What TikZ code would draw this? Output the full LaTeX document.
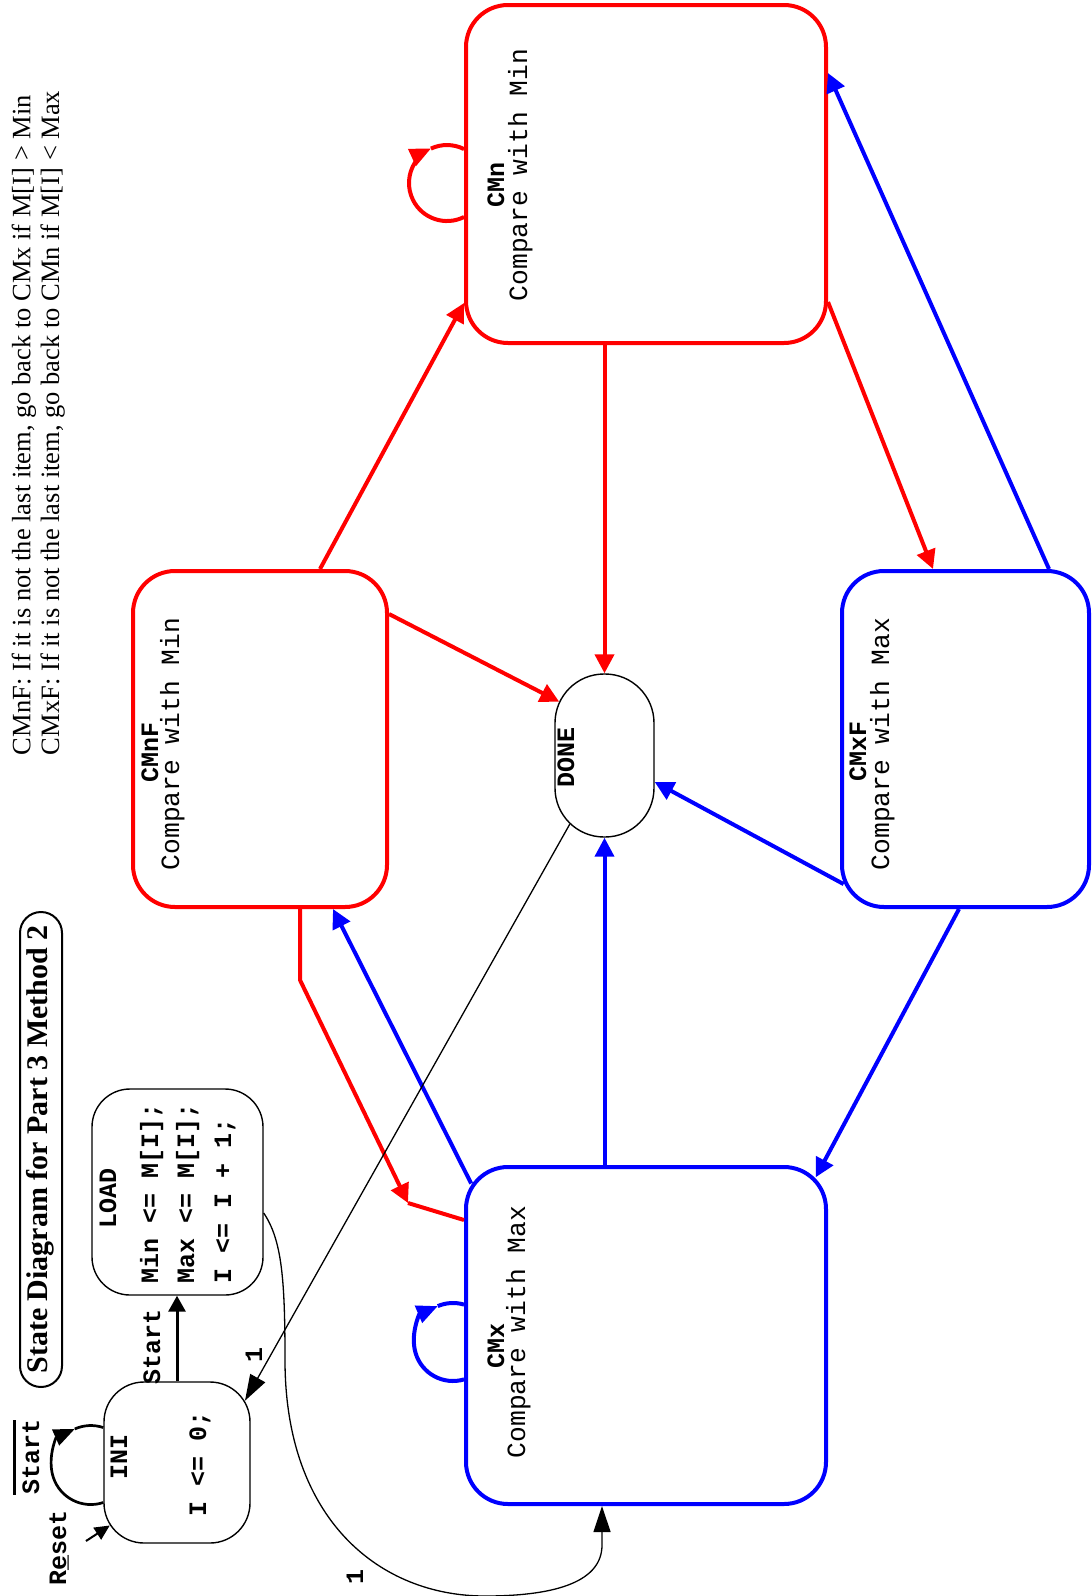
\documentclass[tikz,border=0pt]{standalone}
\usepackage{fontspec}
\setmainfont{Liberation Serif}
\newfontfamily\monofam{Liberation Mono}
\usetikzlibrary{arrows.meta,calc}
\newcommand\monob{\monofam\bfseries\fontsize{25}{30}\selectfont}
\newcommand\monor{\monofam\fontsize{26.3}{30}\selectfont}
\begin{document}
\begin{tikzpicture}[x=1pt,y=1pt,
  cbox/.style={draw, line width=4pt, rounded corners=42pt, inner sep=0pt},
  kbox/.style={draw, line width=1.4pt, inner sep=0pt},
  lbl/.style={rotate=90, anchor=base, inner sep=0pt, outer sep=0pt},
  redln/.style={draw=red, line width=4pt},
  blueln/.style={draw=blue, line width=4pt},
  thinln/.style={draw=black, line width=1.3pt},
  carr/.style={-{Triangle[length=19pt,width=19pt]}},
  larr/.style={-{Triangle[length=21pt,width=18pt]}},
  karr/.style={-{Triangle[length=26pt,width=17pt]}}
]
\fill[white] (0,0) rectangle (1092,-1596);
\useasboundingbox (0,0) rectangle (1092,-1596);

% notes and title
\node[lbl, anchor=base west] (note1) at (30.5,-755) {\fontsize{26.5}{28.5}\selectfont CMnF: If it is not the last item, go back to CMx if M[I] > Min};
\node[lbl, anchor=base west] (note2) at (59,-755) {\fontsize{26.5}{28.5}\selectfont CMxF: If it is not the last item, go back to CMn if M[I] < Max};
\node[draw, line width=2pt, rounded corners=21pt, minimum width=42pt, minimum height=475pt, inner sep=0pt] (titlebox) at (41,-1149.5) {};
\node[lbl] (title) at (47,-1149.5) {\fontsize{30}{36}\selectfont\bfseries State Diagram for Part 3 Method 2};

% boxes
\node[cbox, red, minimum width=360pt, minimum height=338pt] (CMn) at (646,-174) {};
\node[cbox, red, minimum width=254pt, minimum height=336pt] (CMnF) at (260,-739) {};
\node[cbox, blue, minimum width=247pt, minimum height=336pt] (CMxF) at (965.5,-739) {};
\node[cbox, blue, minimum width=360pt, minimum height=337pt] (CMx) at (646,-1335.5) {};
\node[kbox, rounded corners=49pt, minimum width=99pt, minimum height=163pt] (DONE) at (604.5,-755.5) {};
\node[kbox, rounded corners=40pt, minimum width=146pt, minimum height=161pt] (INI) at (177,-1462.5) {};
\node[kbox, rounded corners=38pt, minimum width=171pt, minimum height=206pt] (LOAD) at (177.5,-1192) {};

% box texts
\node[lbl] (CMnt) at (504,-185) {\monob CMn};
\node[lbl] (CMnc) at (527,-175) {\monor Compare with Min};
\node[lbl] (CMnFt) at (158,-752) {\monob CMnF};
\node[lbl] (CMnFc) at (179,-744) {\monor Compare with Min};
\node[lbl] (CMxFt) at (866,-751) {\monob CMxF};
\node[lbl] (CMxFc) at (889,-744) {\monor Compare with Max};
\node[lbl] (CMxt) at (504,-1346) {\monob CMx};
\node[lbl] (CMxc) at (525,-1332) {\monor Compare with Max};
\node[lbl] (DONEt) at (574,-757) {\monob DONE};
\node[lbl] (INIt) at (127,-1457) {\monob INI};
\node[lbl] (INIc) at (206,-1464) {\monob I <= 0;};
\node[lbl] (LOADt) at (116,-1198) {\monob LOAD};
\node[lbl, anchor=base west] (LOAD1) at (158,-1283) {\monob Min <= M[I];};
\node[lbl, anchor=base west] (LOAD2) at (194,-1283) {\monob Max <= M[I];};
\node[lbl, anchor=base west] (LOAD3) at (231,-1283) {\monob I <= I + 1;};

% red connectors
\draw[redln, carr] (320,0 |- CMnF.north) -- (CMn.west |- 0,-303);
\draw[redln, carr] (CMnF.east |- 0,-614) -- ($(DONE.north)+(0,-49.5)+(155:50)$);
\draw[redln, carr] (DONE.north |- CMn.south) -- (DONE.north);
\draw[redln, carr] (CMn.east |- 0,-302) -- (933,0 |- CMxF.north);
\coordinate (bendA) at (300,-980);
\coordinate (midR) at (408,-1203);
\draw[redln, carr] (300,0 |- CMnF.south) -- (bendA) -- (midR);
\draw[redln] (midR) -- (CMx.west |- 0,-1220);

% blue connectors
\draw[blueln, carr] (1049,0 |- CMxF.north) -- (CMn.east |- 0,-73);
\draw[blueln, carr] ($(CMxF.south west)+(42,42)+(-156:42)$) -- (DONE.east |- 0,-782);
\draw[blueln, carr] (959,0 |- CMxF.south) -- ($(CMx.north east)+(-42,-42)+(45:42)$);
\draw[blueln, carr] (DONE.south |- CMx.north) -- (DONE.south);
\draw[blueln, carr] ($(CMx.north west)+(42,-42)+(146:42)$) -- (333,0 |- CMnF.south);

% self loops
\draw[redln, larr] (CMn.west |- 0,-217) arc[start angle=-63.4, end angle=-245, radius=38pt] coordinate (CMnTip);
\draw[redln] (CMnTip) arc[start angle=115, end angle=63.4, radius=38pt];
\draw[blueln, larr] (CMx.west |- 0,-1379.4) arc[start angle=-73.6, end angle=-247, radius=39pt] coordinate (CMxTip);
\draw[blueln] (CMxTip) arc[start angle=113, end angle=73.6, radius=39pt];
\draw[line width=2.7pt, -{Triangle[length=21pt,width=17pt]}] (INI.west |- 0,-1502.5) arc[start angle=-71.6, end angle=-246, radius=39.5pt] coordinate (INITip);
\draw[line width=2.7pt] (INITip) arc[start angle=114, end angle=71.6, radius=39.5pt];
\node[lbl] (startbar) at (39,-1457) {\monob Start};
\draw[line width=2.5pt] ([xshift=-8pt]startbar.north west) -- ([xshift=-8pt]startbar.north east);

% reset
\coordinate (resetsrc) at (86,-1541);
\draw[line width=2pt, -{Triangle[length=15pt,width=14pt]}] (resetsrc) -- ($(INI.south west)+(40,40)+(213:40)$);
\node[lbl] (resetlbl) at (66,-1548) {\monob R\rlap{\_}eset};

% black connectors
\draw[line width=3pt, -{Triangle[length=16pt,width=17pt]}] (INI.north) -- (INI.north |- LOAD.south);
\node[lbl] (startlbl) at (160,-1347) {\monob Start};
\draw[thinln, karr] ($(DONE.south)+(0,49.5)+(226:50)$) -- ($(INI.north east)+(-40,-40)+(31:40)$);
\node[lbl, anchor=center] (one1) at (254,-1355) {\monob 1};
\draw[thinln, karr] (LOAD.east |- 0,-1213) .. controls (282,-1240) and (285,-1280) .. (285,-1360)
  .. controls (285,-1520) and (380,-1596) .. (485,-1596)
  .. controls (560,-1596) and (602,-1580) .. (602,-1545) -- (602,0 |- CMx.south);
\node[lbl, anchor=center] (one2) at (355,-1577) {\monob 1};
\end{tikzpicture}
\end{document}
